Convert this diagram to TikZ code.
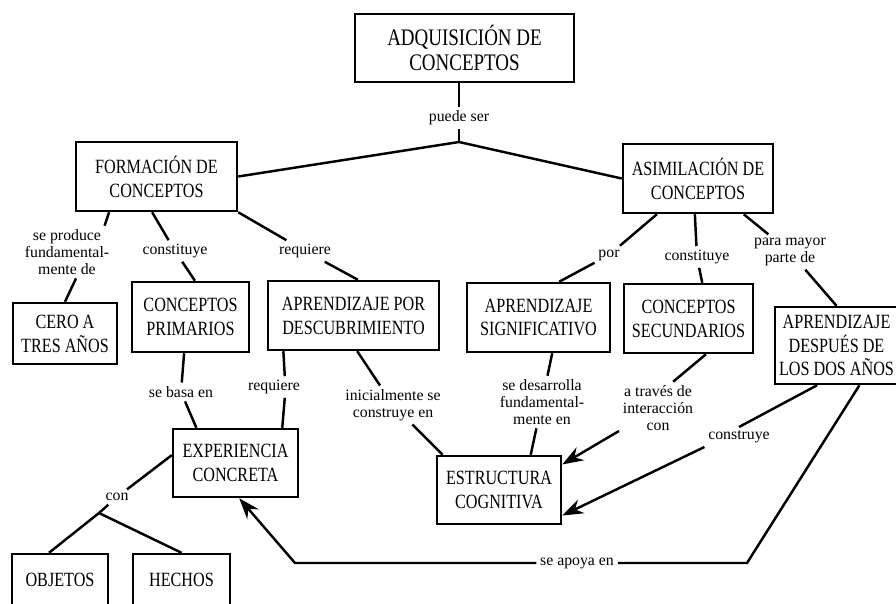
\documentclass[tikz,border=0pt]{standalone}
\usepackage{fontspec}
\setmainfont{Liberation Serif}
\newfontfamily\cajafont[FakeStretch=0.8]{Liberation Serif}
\usetikzlibrary{arrows.meta}

\tikzset{
   concepto/.style 2 args={draw, line width=1.4pt, align=center, inner sep=0pt,
      minimum width=#1*0.02cm, minimum height=#2*0.02cm,
      font=\cajafont\fontsize{11.5}{13.6}\selectfont},
   enlace/.style={align=center, inner sep=1.5pt, font=\fontsize{9}{9.6}\selectfont},
   flecha/.style={-{Stealth[length=0.42cm, width=0.3cm]}}
}

\begin{document}
\begin{tikzpicture}[x=0.02cm, y=-0.02cm, line width=1.4pt]
            \useasboundingbox (0,0) rectangle (896,603);
            \clip (0,0) rectangle (896,603);
            % Conceptos
            \node[concepto={219}{68}, font=\cajafont\fontsize{13.5}{14.5}\selectfont] (adq) at (464.5,48) {ADQUISICIÓN DE\\CONCEPTOS};
            \node[concepto={161}{69}] (form) at (156.5,176.5) {FORMACIÓN DE\\CONCEPTOS};
            \node[concepto={150}{69}] (asim) at (698,178.5) {ASIMILACIÓN DE\\CONCEPTOS};
            \node[concepto={104}{61}] (cero) at (65,333.5) {CERO A\\TRES AÑOS};
            \node[concepto={117}{70}] (prim) at (190.5,317) {CONCEPTOS\\PRIMARIOS};
            \node[concepto={171}{69}] (desc) at (353.5,315.5) {APRENDIZAJE POR\\DESCUBRIMIENTO};
            \node[concepto={143}{69}] (sig) at (538.5,317.5) {APRENDIZAJE\\SIGNIFICATIVO};
            \node[concepto={129}{69}] (sec) at (688.5,318.5) {CONCEPTOS\\SECUNDARIOS};
            \node[concepto={123}{77}] (desp) at (836.5,345.5) {APRENDIZAJE\\DESPUÉS DE\\LOS DOS AÑOS};
            \node[concepto={125}{68}] (exp) at (235.5,463) {EXPERIENCIA\\CONCRETA};
            \node[concepto={124}{68}] (est) at (499,490) {ESTRUCTURA\\COGNITIVA};
            \node[concepto={96}{52}] (obj) at (60,580) {OBJETOS};
            \node[concepto={97}{52}] (hech) at (181.5,580) {HECHOS};
            % Palabras de enlace
            \node[enlace] (lpuede) at (459,118) {puede ser};
            \node[enlace] (lprod) at (67,252) {se produce\\fundamental-\\mente de};
            \node[enlace] (lcons1) at (175,251) {constituye};
            \node[enlace] (lreq1) at (305,251) {requiere};
            \node[enlace] (lpor) at (609,255) {por};
            \node[enlace] (lcons2) at (697,257) {constituye};
            \node[enlace] (lpara) at (790,252) {para mayor\\parte de};
            \node[enlace] (lbasa) at (181,392) {se basa en};
            \node[enlace] (lreq2) at (274,387) {requiere};
            \node[enlace] (linic) at (393,405) {inicialmente se\\construye en};
            \node[enlace] (ldes) at (542,402) {se desarrolla\\fundamental-\\mente en};
            \node[enlace] (lint) at (658,408) {a través de\\interacción\\con};
            \node[enlace] (lconst) at (739,437) {construye};
            \node[enlace] (lapoya) at (577,563) {se apoya en};
            \node[enlace] (lcon) at (117,497) {con};
            % Puntos de quiebre
            \coordinate (rama1) at (459,142);
            \coordinate (rama2) at (99,513);
            \coordinate (apoyo1) at (747,563);
            \coordinate (apoyo2) at (295,563);
            % Enlaces
            \draw (adq.south -| lpuede) -- (lpuede) -- (rama1);
            \draw (form.east) -- (rama1) -- (asim.west);
            \draw (form.-143) -- (lprod.35);
            \draw (lprod.-71) -- (cero.north);
            \draw (form.-97) -- (lcons1) -- (prim.83);
            \draw (form.south east) -- (lreq1) -- (desc.83);
            \draw (asim.-139) -- (lpor) -- (sig.60);
            \draw (asim.-95) -- (lcons2) -- (sec.69);
            \draw (asim.-38) -- (lpara) -- (desp.north);
            \draw (prim.-100) -- (lbasa) -- (exp.138);
            \draw (desc.-153) -- (lreq2.45);
            \draw (lreq2.-45) -- (exp.37);
            \draw (desc.-84) -- (linic) -- (est.148);
            \draw (sig.-69) -- (ldes) -- (est.48);
            \draw (sec.-64) -- (lint.60);
            \draw[flecha] (lint) -- (est.22);
            \draw (desp.-116) -- (lconst.north);
            \draw[flecha] (lconst.south west) -- (est.-22);
            \draw (desp.-60) -- (apoyo1) -- (lapoya);
            \draw[flecha] (lapoya) -- (apoyo2) -- (exp.-84);
            \draw (exp.173) -- (lcon) -- (rama2);
            \draw (rama2) -- (obj.112);
            \draw (rama2) -- (hech.north);
\end{tikzpicture}
\end{document}
